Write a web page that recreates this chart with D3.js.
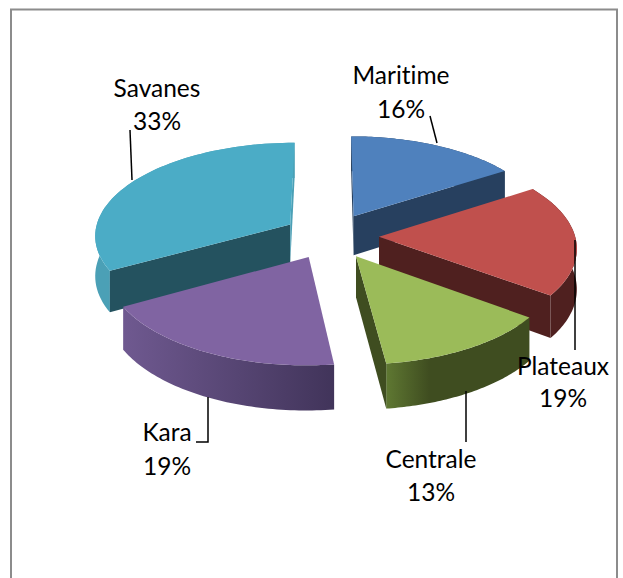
<!DOCTYPE html>
<html>
<head>
<meta charset="utf-8">
<script src="https://cdn.jsdelivr.net/npm/d3@7"></script>
<style>
  html, body { margin: 0; padding: 0; background: #fff; }
  svg { display: block; }
  text { font-family: Lato, "Noto Sans", sans-serif; fill: #000; font-variant-ligatures: none; }
</style>
</head>
<body>
<svg id="chart" width="623" height="578"></svg>
<script>
// chart values
var regions = ["Maritime", "Plateaux", "Centrale", "Kara", "Savanes"];
var shares = [16, 19, 13, 19, 33];

// colours, same order as regions
var topColors = ["#4f81bd", "#c0504d", "#9bbb59", "#8064a2", "#4bacc6"];
var wallColors = ["#27405f", "#4f201f", "#3f4d20", "#41345a", "#24525f"];
var rimLeft = ["#27405f", "#4f201f", "#5f7832", "#6f5990", "#4ba0b6"];
var rimRight = ["#27405f", "#4f201f", "#3f4d20", "#41345a", "#4ba0b6"];
// how far along the rim the dark colour is reached
var rimFade = [1, 1, 0.3, 1, 1];

// where the labels go and how the leader lines run
var labelSpots = [[401, 84, 118], [563, 375, 407], [431, 468, 501], [167, 441, 475], [157, 97, 130]];
var leaders = [
  [[430, 116], [437, 143]],
  [[575, 240], [575, 350]],
  [[466, 391], [466, 442]],
  [[208, 397], [208, 442], [196, 442]],
  [[130, 130], [132, 180]]
];

var cx = 331, cy = 236;
var radius = 196, explode = 48;
var tilt = 0.48, persp = 0.105 / 195, depth = 40;

var svg = d3.select("#chart");
var defs = svg.append("defs");

// frame round the chart, bottom edge is cropped
svg.append("path")
  .attr("d", "M11 578V9.5H617V578")
  .attr("fill", "none")
  .attr("stroke", "#8c8c8c")
  .attr("stroke-width", 2);

// ground point (x right, y towards viewer) to screen
function project(gx, gy, drop) {
  var p = 1 + gy * persp;
  return [cx + gx * p, cy + gy * tilt * p + (drop || 0) * p];
}

var pie = d3.pie().sort(null).value(function(d) { return d; });
var arcs = pie(shares);

var slices = arcs.map(function(a, i) {
  var mid = (a.startAngle + a.endAngle) / 2;
  return {
    i: i,
    mid: mid,
    a0: a.startAngle,
    a1: a.endAngle,
    ox: explode * Math.sin(mid),
    oy: -explode * Math.cos(mid)
  };
});

function rimPoint(s, a, drop) {
  return project(s.ox + radius * Math.sin(a), s.oy - radius * Math.cos(a), drop);
}

function apexPoint(s, drop) {
  return project(s.ox, s.oy, drop);
}

function rimPoints(s, drop) {
  var n = 60, pts = [];
  for (var k = 0; k <= n; k++) {
    pts.push(rimPoint(s, s.a0 + (s.a1 - s.a0) * k / n, drop));
  }
  return pts;
}

var line = d3.line();
function poly(pts) { return line(pts) + "Z"; }

// back slices first so the front ones paint over them
var order = slices.slice().sort(function(a, b) { return a.oy - b.oy; });

order.forEach(function(s) {
  var g = svg.append("g").attr("class", "slice");
  var top = rimPoints(s, 0);
  var bottom = rimPoints(s, depth);
  var xs = d3.extent(top, function(d) { return d[0]; });

  var gradId = "rim" + s.i;
  var grad = defs.append("linearGradient")
    .attr("id", gradId)
    .attr("gradientUnits", "userSpaceOnUse")
    .attr("x1", xs[0]).attr("x2", xs[1])
    .attr("y1", 0).attr("y2", 0);
  grad.append("stop").attr("offset", 0).attr("stop-color", rimLeft[s.i]);
  grad.append("stop").attr("offset", rimFade[s.i]).attr("stop-color", rimRight[s.i]);

  // outer wall
  g.append("path")
    .attr("d", poly(top.concat(bottom.slice().reverse())))
    .attr("fill", "url(#" + gradId + ")");

  // cut faces, only the ones turned to the viewer
  var A = apexPoint(s, 0), Ad = apexPoint(s, depth);
  var startFace = [A, rimPoint(s, s.a0, 0), rimPoint(s, s.a0, depth), Ad];
  var endFace = [A, rimPoint(s, s.a1, 0), rimPoint(s, s.a1, depth), Ad];
  // d3.polygonArea sign: end face shows when negative, start face when positive
  if (d3.polygonArea(startFace) > 0) {
    g.append("path").attr("d", poly(startFace)).attr("fill", wallColors[s.i]);
  }
  if (d3.polygonArea(endFace) < 0) {
    // the thin sliver on Savanes reads lighter than its cut face
    g.append("path").attr("d", poly(endFace))
      .attr("fill", regions[s.i] === "Savanes" ? rimLeft[s.i] : wallColors[s.i]);
  }

  // top face
  g.append("path")
    .attr("d", poly([A].concat(top)))
    .attr("fill", topColors[s.i]);
});

// leader lines
leaders.forEach(function(pts) {
  svg.append("path")
    .attr("d", line(pts))
    .attr("fill", "none")
    .attr("stroke", "#000")
    .attr("stroke-width", 1.5);
});

// labels
regions.forEach(function(name, i) {
  var spot = labelSpots[i];
  svg.append("text")
    .attr("x", spot[0]).attr("y", spot[1])
    .attr("text-anchor", "middle")
    .attr("font-size", 24.5)
    .text(name);
  svg.append("text")
    .attr("x", spot[0]).attr("y", spot[2])
    .attr("text-anchor", "middle")
    .attr("font-size", 24.5)
    .text(shares[i] + "%");
});
</script>
</body>
</html>
